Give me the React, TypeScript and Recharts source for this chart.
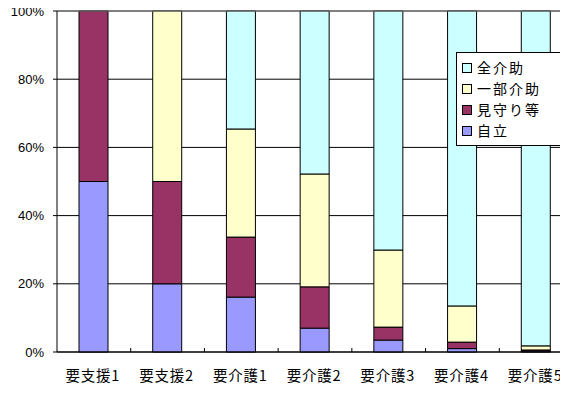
import { BarChart, Bar, XAxis, YAxis, CartesianGrid, ReferenceLine } from 'recharts';

const categories = ['要支援1', '要支援2', '要介護1', '要介護2', '要介護3', '要介護4', '要介護5'];
const jiritsu = [50, 20, 16.1, 7.0, 3.5, 1.0, 0.3];
const mimamori = [50, 30, 17.6, 12.1, 3.8, 1.9, 0.3];
const ichibu = [0, 50, 31.7, 33.1, 22.6, 10.6, 1.2];
const zen = [0, 0, 34.6, 47.8, 70.1, 86.5, 98.2];
const yTicks = [0, 20, 40, 60, 80, 100];

const SERIES = [
  { key: 'zen', name: '全介助', color: '#CCFFFF' },
  { key: 'ichibu', name: '一部介助', color: '#FFFFCC' },
  { key: 'mimamori', name: '見守り等', color: '#993366' },
  { key: 'jiritsu', name: '自立', color: '#9999FF' },
];

const data = categories.map((name, i) => ({
  name,
  jiritsu: jiritsu[i],
  mimamori: mimamori[i],
  ichibu: ichibu[i],
  zen: zen[i],
}));

const FONT = '"Noto Sans CJK JP", "Liberation Sans", sans-serif';

const XTick = (props: any) => {
  const { x, y, payload, index } = props;
  const off = payload.offset || 0;
  return (
    <g>
      {index < categories.length - 1 && (
        <line x1={x + off} x2={x + off} y1={y - 4} y2={y} stroke="#000" />
      )}
      <text
        x={x - 1}
        y={y + 19}
        dy="0.71em"
        textAnchor="middle"
        fontSize={14.5}
        letterSpacing={0.8}
        fontFamily={FONT}
        fill="#000"
      >
        {payload.value}
      </text>
    </g>
  );
};

const LegendBox = () => (
  <div
    style={{
      position: 'absolute',
      left: 456,
      top: 52,
      border: '1px solid #000',
      background: '#fff',
      width: 130,
      padding: '4px 0 4px 5px',
      fontFamily: FONT,
      fontSize: 14,
      lineHeight: '21px',
      color: '#000',
    }}
  >
    {SERIES.map((s) => (
      <div key={s.key} style={{ display: 'flex', alignItems: 'center', height: 21 }}>
        <span
          style={{
            display: 'inline-block',
            width: 8,
            height: 8,
            border: '1px solid #000',
            background: s.color,
            marginRight: 5,
          }}
        />
        <span style={{ letterSpacing: 2 }}>{s.name}</span>
      </div>
    ))}
  </div>
);

export default function App() {
  return (
    <div style={{ margin: -8, width: 568, height: 394, overflow: 'hidden', position: 'relative' }}>
      <BarChart
        width={581}
        height={394}
        data={data}
        margin={{ top: 11, right: 8, bottom: 12, left: 0 }}
      >
        <CartesianGrid vertical={false} stroke="#000" />
        <ReferenceLine y={100} stroke="#808080" />
        <XAxis
          dataKey="name"
          height={30}
          axisLine={{ stroke: '#000' }}
          tickLine={false}
          tickSize={0}
          tickMargin={0}
          tick={<XTick />}
          interval={0}
        />
        <YAxis
          width={57}
          domain={[0, 100]}
          ticks={yTicks}
          tickFormatter={(v) => `${v}%`}
          axisLine={{ stroke: '#000' }}
          tickLine={{ stroke: '#000' }}
          tickSize={4}
          tickMargin={9}
          tick={{ fontSize: 13, fill: '#000', fontFamily: '"Liberation Sans", Arial, sans-serif' }}
        />
        {[...SERIES].reverse().map((s) => (
          <Bar
            key={s.key}
            dataKey={s.key}
            name={s.name}
            stackId="a"
            fill={s.color}
            stroke="#000"
            strokeWidth={1}
            barSize={29}
            isAnimationActive={false}
          />
        ))}
      </BarChart>
      <LegendBox />
    </div>
  );
}
